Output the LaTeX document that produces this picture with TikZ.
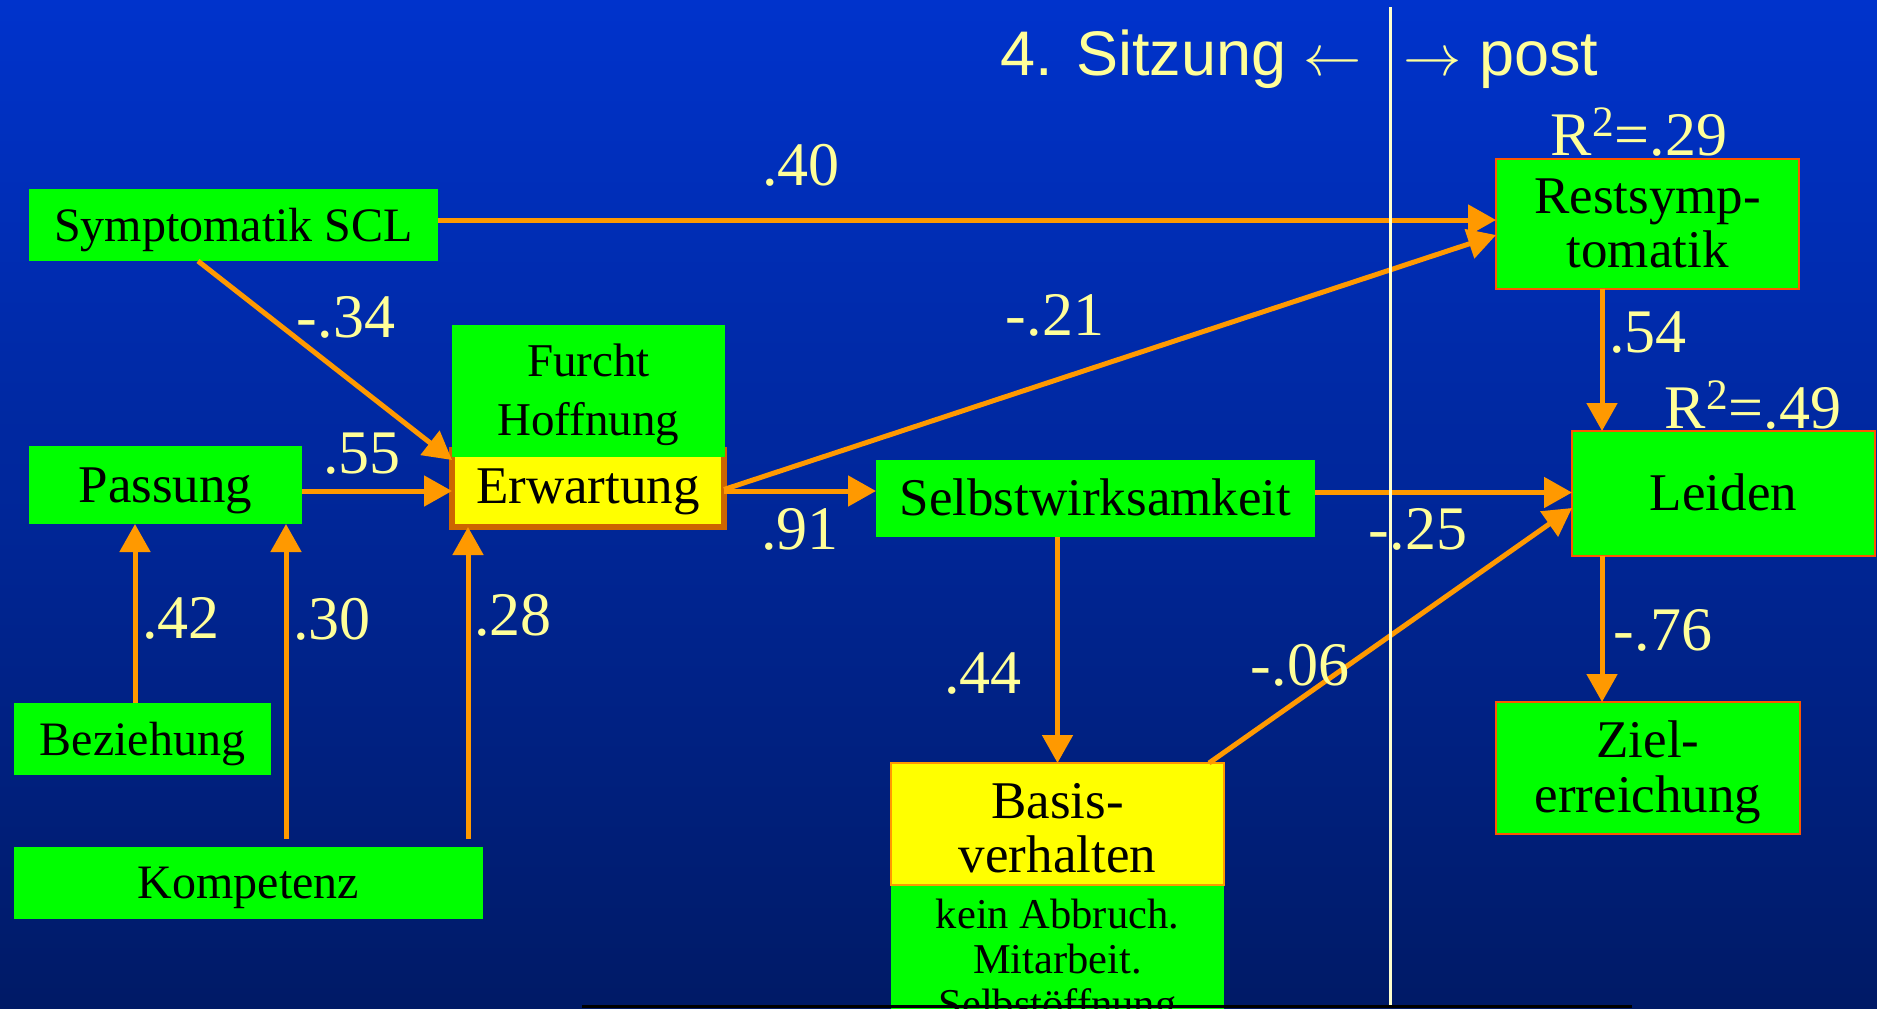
\documentclass[tikz,border=0pt]{standalone}
\usepackage{graphicx}
\usepackage{fontspec}
\setmainfont{Liberation Serif}
\newfontfamily\sansf{Liberation Sans}
\usetikzlibrary{arrows.meta}
\definecolor{bgtop}{RGB}{0,51,204}
\definecolor{bgbot}{RGB}{0,26,102}
\definecolor{boxgreen}{RGB}{0,255,0}
\definecolor{boxyellow}{RGB}{255,255,0}
\definecolor{arrorange}{RGB}{255,153,0}
\definecolor{erwborder}{RGB}{204,102,0}
\definecolor{redborder}{RGB}{255,85,0}
\definecolor{labelyellow}{RGB}{255,255,153}
\definecolor{divline}{RGB}{255,255,204}
\newcommand\fsz[2]{\fontsize{#1}{#2}\selectfont}
\begin{document}
\begin{tikzpicture}[x=0.5pt,y=-0.5pt,
  gbox/.style={fill=boxgreen, inner sep=0pt, outer sep=0pt, align=center, text=black},
  ybox/.style={fill=boxyellow, inner sep=0pt, outer sep=0pt, align=center, text=black},
  rbox/.style={gbox, draw=redborder, line width=1pt},
  oneline/.style={text height=18pt, text depth=2pt},
  arr/.style={draw=arrorange, line width=2.5pt, -{Triangle[length=14pt,width=15pt]}},
  lab/.style={text=labelyellow, font=\fsz{31}{31}, inner sep=0pt, anchor=base},
  hdr/.style={text=labelyellow, font=\sansf\fsz{31.5}{31.5}, inner sep=0pt, anchor=base west}
]
\useasboundingbox (0,0) rectangle (1877,1008);
\clip (0,0) rectangle (1877,1008);
\shade[top color=bgtop, bottom color=bgbot] (0,0) rectangle (1877,1008);

% nodes
\node[gbox, oneline, minimum width=204.5pt, minimum height=36pt, font=\fsz{24}{26}] (sym) at (233.5,225) {Symptomatik SCL};
\node[gbox, oneline, text height=19pt, minimum width=136.5pt, minimum height=39pt, font=\fsz{26.5}{28}] (passung) at (165.5,485) {Passung};
\node[gbox, oneline, minimum width=128.5pt, minimum height=36pt, font=\fsz{24}{26}] (bez) at (142.5,739) {Beziehung};
\node[gbox, oneline, text height=17pt, minimum width=234.5pt, minimum height=36pt, font=\fsz{24}{26}] (komp) at (248.5,883) {Kompetenz};
\node[ybox, draw=erwborder, line width=3pt, text height=16.5pt, text depth=2pt, minimum width=136pt, minimum height=38.5pt, font=\fsz{26.5}{28}] (erw) at (588,488.5) {Erwartung};
\node[gbox, text height=45pt, text depth=1pt, minimum width=136.5pt, minimum height=66pt, font=\fsz{23.5}{29.5}] (furcht) at (588.5,391) {Furcht\\Hoffnung};
\node[gbox, oneline, text height=18.5pt, minimum width=219.5pt, minimum height=38.5pt, font=\fsz{26.5}{28}] (selbst) at (1095.5,498.5) {Selbstwirksamkeit};
\node[gbox, minimum width=166.5pt, minimum height=72.5pt] (basisg) at (1057.5,957.5) {};
\node[text=black, inner sep=0pt, align=center, anchor=north, font=\fsz{21.25}{22.5}] (basist) at (1057.5,899) {kein Abbruch.\\Mitarbeit.\\Selbstöffnung};
\node[ybox, draw=arrorange, line width=1pt, text height=49pt, text depth=1pt, minimum width=166.5pt, minimum height=61pt, font=\fsz{26.5}{27}] (basis) at (1057.5,824) {Basis-\\verhalten};
\node[rbox, text height=44pt, text depth=1pt, minimum width=151.5pt, minimum height=65pt, font=\fsz{26.5}{27}] (rest) at (1647.5,224) {Restsymp-\\tomatik};
\node[rbox, oneline, text height=18.5pt, minimum width=151.5pt, minimum height=62.5pt, font=\fsz{26.5}{28}] (leiden) at (1723.5,493.5) {Leiden};
\node[rbox, text height=45pt, text depth=1pt, minimum width=152pt, minimum height=66pt, font=\fsz{26.5}{27.5}] (ziel) at (1648,768) {Ziel-\\erreichung};

% helper coordinates for vertical connectors
\coordinate (cx1) at (135,0);
\coordinate (cx2) at (286,0);
\coordinate (cx3) at (468,0);
\coordinate (cx4) at (1602,0);

% connectors
\draw[arr] ([yshift=2.5pt]sym.east) -- ([yshift=2.5pt]sym.east -| rest.west);
\draw[arr] ([xshift=-17.75pt]sym.south) -- ([yshift=-5pt]erw.north west);
\draw[arr] ([yshift=-3pt]passung.east) -- ([yshift=-3pt]passung.east -| erw.west);
\draw[arr] ([yshift=-1.25pt]erw.east) -- ([yshift=-1.25pt]erw.east -| selbst.west);
\draw[arr] ([yshift=-0.5pt]erw.east) -- ([yshift=-5.5pt]rest.west);
\draw[arr] ([yshift=3pt]selbst.east) -- ([yshift=3pt]selbst.east -| leiden.west);
\draw[arr] ([xshift=75.75pt]basis.north) -- ([yshift=-7.25pt]leiden.west);
\draw[arr] (selbst.south -| basis.north) -- (basis.north);
\draw[arr] (bez.north -| cx1) -- (passung.south -| cx1);
\draw[arr] ([yshift=4pt]komp.north -| cx2) -- (passung.south -| cx2);
\draw[arr] ([yshift=4pt]komp.north -| cx3) -- (erw.south -| cx3);
\draw[arr] (rest.south -| cx4) -- (leiden.north -| cx4);
\draw[arr] (leiden.south -| cx4) -- (ziel.north -| cx4);

% labels
\node[lab] (l40) at (801,185) {.40};
\node[lab] (l34) at (346,337) {-.34};
\node[lab] (l55) at (362,473) {.55};
\node[lab] (l42) at (181,638) {.42};
\node[lab] (l30) at (332,639) {.30};
\node[lab] (l28) at (513,635) {.28};
\node[lab] (l91) at (800,549) {.91};
\node[lab] (l21) at (1055,335) {-.21};
\node[lab] (l54) at (1648,352) {.54};
\node[lab] (r29) at (1639,155) {R\textsuperscript{2}=.29};
\node[lab] (r49) at (1753,428) {R\textsuperscript{2}=.49};
\node[lab] (l25) at (1418,549) {-.25};
\node[lab] (l44) at (983,693) {.44};
\node[lab] (l06) at (1300,685) {-.06};
\node[lab] (l76) at (1663,650) {-.76};

% header
\node[hdr] (hleft) at (1000,75) {4. Sitzung \scalebox{1.17}{$\leftarrow$}};
\node[hdr] (hright) at (1403,75) {\scalebox{1.17}{$\rightarrow$} post};

% divider and bottom edge
\draw[divline, line width=1.5pt] (1390,7) -- (1390,1008);
\draw[black, line width=1.5pt] (582,1006.5) -- (1632,1006.5);
\end{tikzpicture}
\end{document}
